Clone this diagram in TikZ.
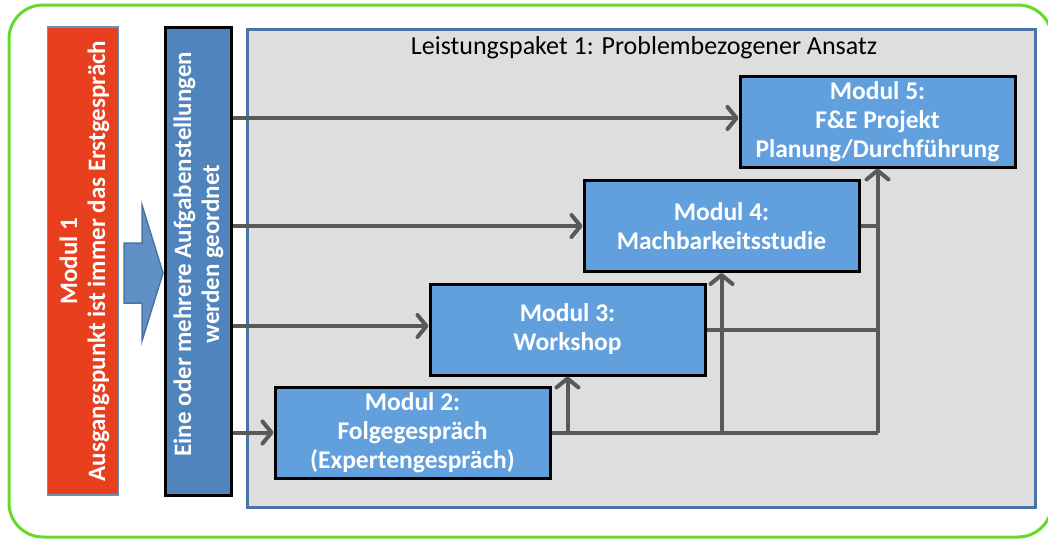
\documentclass[tikz,border=0pt]{standalone}
\usepackage{fontspec}
\setmainfont{Carlito}
\usetikzlibrary{arrows.meta}
\definecolor{frame}{HTML}{66D92A}
\definecolor{modred}{HTML}{E8401E}
\definecolor{barblue}{HTML}{4F84BD}
\definecolor{modblue}{HTML}{62A0DD}
\definecolor{panelgray}{HTML}{DEDEDE}
\definecolor{paneledge}{HTML}{4A74A6}
\definecolor{linegray}{HTML}{595959}
\tikzset{
  modbox/.style={draw=black, line width=3pt, fill=modblue, text=white, align=center,
    minimum width=275pt, minimum height=91pt, inner sep=0pt,
    font=\bfseries\fontsize{25.5}{29}\selectfont},
  conn/.style={draw=linegray, line width=4pt},
  connarrow/.style={conn, -{Straight Barb[length=9pt,width=22pt,round]}},
  sidetext/.style={text=white, align=center, rotate=90, font=\bfseries\fontsize{25}{28}\selectfont}
}
\begin{document}
\begin{tikzpicture}[x=1pt, y=-1pt]
\useasboundingbox (0,0) rectangle (1048,538);
\draw[frame, line width=3pt, rounded corners=34pt] (9,5) rectangle (1052,537);
\node[draw=paneledge, line width=3pt, fill=panelgray, minimum width=788pt, minimum height=478pt, inner sep=0pt] (panel) at (641.5,268) {};
\node[font=\fontsize{26}{30}\selectfont, anchor=north] (title) at (644,33) {Leistungspaket 1: Problembezogener Ansatz};
\node[draw=paneledge!80, line width=1.5pt, fill=modred, minimum width=71pt, minimum height=468pt, inner sep=0pt] (m1) at (83,261) {};
\node[sidetext] at ([xshift=1.5pt]m1.center) {Modul 1\\Ausgangspunkt ist immer das Erstgespräch};
\node[draw=black, line width=3pt, fill=barblue, minimum width=66pt, minimum height=468pt, inner sep=0pt] (bar) at (198.5,261) {};
\node[sidetext] at ([yshift=7pt]bar.center) {Eine oder mehrere Aufgabenstellungen\\werden geordnet};
\draw[draw=paneledge, line width=1.5pt, fill=barblue!90!white] (124,243) -- (142,243) -- (142,205) -- (163,273) -- (142,341) -- (142,303) -- (124,303) -- cycle;
\node[modbox] (m5) at (877.5,121.5) {Modul 5:\\F\&E Projekt\\Planung/Durchführung};
\node[modbox] (m4) at (721.5,226) {Modul 4:\\Machbarkeitsstudie};
\node[modbox] (m3) at (567.5,329.5) {Modul 3:\\Workshop};
\node[modbox] (m2) at (412.5,432.5) {Modul 2:\\Folgegespräch\\(Expertengespräch)};
\draw[connarrow] (bar.east |- 0,118) -- (m5.west |- 0,118);
\draw[connarrow] (bar.east |- m4.west) -- (m4.west);
\draw[connarrow] (bar.east |- 0,326) -- (m3.west |- 0,326);
\draw[connarrow] (bar.east |- m2.west) -- (m2.west);
\draw[conn] (m2.east) -- (m2.east -| m5.south);
\draw[conn] (m3.east) -- (m3.east -| m5.south);
\draw[conn] (m4.east) -- (m4.east -| m5.south);
\draw[connarrow] (m2.east -| m3.south) -- (m3.south);
\draw[connarrow] (m2.east -| m4.south) -- (m4.south);
\draw[connarrow] (m2.east -| m5.south) -- (m5.south);
\end{tikzpicture}
\end{document}
